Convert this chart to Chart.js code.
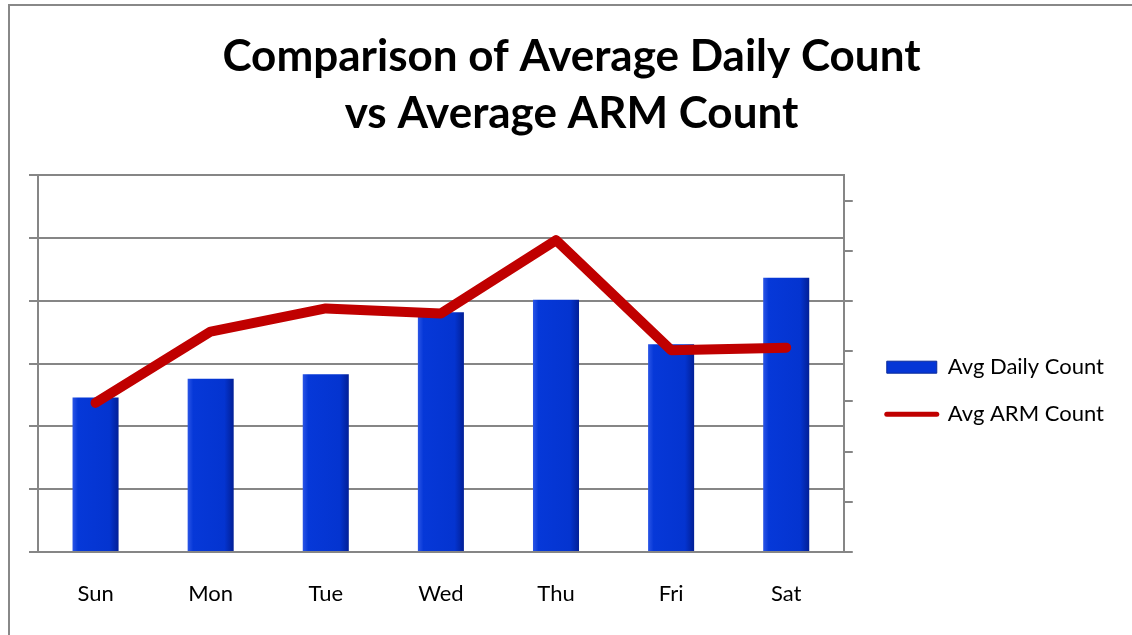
<!DOCTYPE html>
<html>
<head>
<meta charset="utf-8">
<script src="https://cdn.jsdelivr.net/npm/chart.js@4"></script>
<style>
  html, body { margin: 0; padding: 0; background: #fff; overflow: hidden; }
  #frame { position: absolute; left: 8px; top: 4px; width: 1200px; height: 700px;
           border-left: 2px solid #888; border-top: 2px solid #888; }
  #wrap { position: absolute; left: 0; top: 0; width: 1132px; height: 635px; }
</style>
</head>
<body>
<div id="frame"></div>
<div id="wrap"><canvas id="chart"></canvas></div>
<script>
const days = ['Sun', 'Mon', 'Tue', 'Wed', 'Thu', 'Fri', 'Sat'];
const avgDailyCount = [24.6, 27.6, 28.3, 38.2, 40.2, 33.1, 43.7];
const avgArmCount = [29.7, 43.9, 48.5, 47.5, 62.1, 40.2, 40.7];
const titleLines = ['Comparison of Average Daily Count', 'vs Average ARM Count'];

const FONT = 'Lato, "Open Sans", sans-serif';
const GRID = '#868686';

// bar fill with a little bevel look
function barFill(ctx) {
  const chart = ctx.chart;
  if (!chart.chartArea || ctx.dataIndex === undefined) return '#0536d6';
  const xs = chart.scales.x;
  const cx = xs.getPixelForValue(ctx.dataIndex);
  const w = (xs.width / days.length) * 0.4;
  const g = chart.ctx.createLinearGradient(cx - w / 2, 0, cx + w / 2, 0);
  g.addColorStop(0, '#2a55e6');
  g.addColorStop(0.12, '#0638d8');
  g.addColorStop(0.8, '#0434d0');
  g.addColorStop(1, '#021f96');
  return g;
}

new Chart(document.getElementById('chart'), {
  data: {
    labels: days,
    datasets: [
      {
        type: 'bar',
        label: 'Avg Daily Count',
        data: avgDailyCount,
        yAxisID: 'y',
        backgroundColor: barFill,
        borderWidth: 0,
        categoryPercentage: 1,
        barPercentage: 0.4,
        order: 1
      },
      {
        type: 'line',
        label: 'Avg ARM Count',
        data: avgArmCount,
        yAxisID: 'y1',
        borderColor: '#C00000',
        backgroundColor: '#C00000',
        borderWidth: 10,
        borderCapStyle: 'round',
        borderJoinStyle: 'round',
        pointRadius: 0,
        tension: 0,
        order: 0
      }
    ]
  },
  options: {
    responsive: true,
    maintainAspectRatio: false,
    animation: false,
    layout: { padding: { left: 29, right: 18, top: 0, bottom: 0 } },
    plugins: {
      tooltip: { enabled: false },
      title: {
        display: true,
        text: titleLines,
        color: '#000',
        font: { family: FONT, size: 44, weight: 'bold', lineHeight: 1.3 },
        padding: { top: 28, bottom: 33 }
      },
      legend: {
        position: 'right',
        maxWidth: 400,
        title: { display: true, text: '', padding: { top: 66, bottom: 66 } },
        labels: {
          color: '#000',
          font: { family: FONT, size: 22 },
          usePointStyle: true,
          pointStyleWidth: 50,
          boxHeight: 12,
          padding: 25,
          generateLabels(chart) {
            const items = Chart.defaults.plugins.legend.labels.generateLabels(chart);
            items.forEach(it => {
              if (it.datasetIndex === 0) {
                it.fillStyle = '#0536d6';
                it.strokeStyle = '#0a2a9a';
                it.lineWidth = 1;
                it.pointStyle = 'rect';
              } else {
                it.fillStyle = '#C00000';
                it.strokeStyle = '#C00000';
                it.lineWidth = 5;
                it.lineCap = 'round';
                it.pointStyle = 'line';
              }
            });
            return items.sort((a, b) => a.datasetIndex - b.datasetIndex);
          }
        }
      }
    },
    scales: {
      x: {
        grid: { display: false },
        border: { display: false },
        ticks: { color: '#000', font: { family: FONT, size: 22 }, padding: 21 },
        afterFit(s) { s.height = 83; }
      },
      y: {
        position: 'left',
        min: 0,
        max: 60,
        ticks: { stepSize: 10, display: false },
        grid: { color: GRID, lineWidth: 2, tickLength: 9 },
        border: { color: GRID, width: 2 },
        afterFit(s) { s.width = 9; }
      },
      y1: {
        position: 'right',
        min: 0,
        max: 75,
        ticks: { stepSize: 10, display: false, includeBounds: false },
        grid: { drawOnChartArea: false, color: GRID, lineWidth: 2, tickLength: 9 },
        border: { color: GRID, width: 2 },
        afterFit(s) { s.width = 18; }
      }
    }
  }
});
</script>
</body>
</html>
